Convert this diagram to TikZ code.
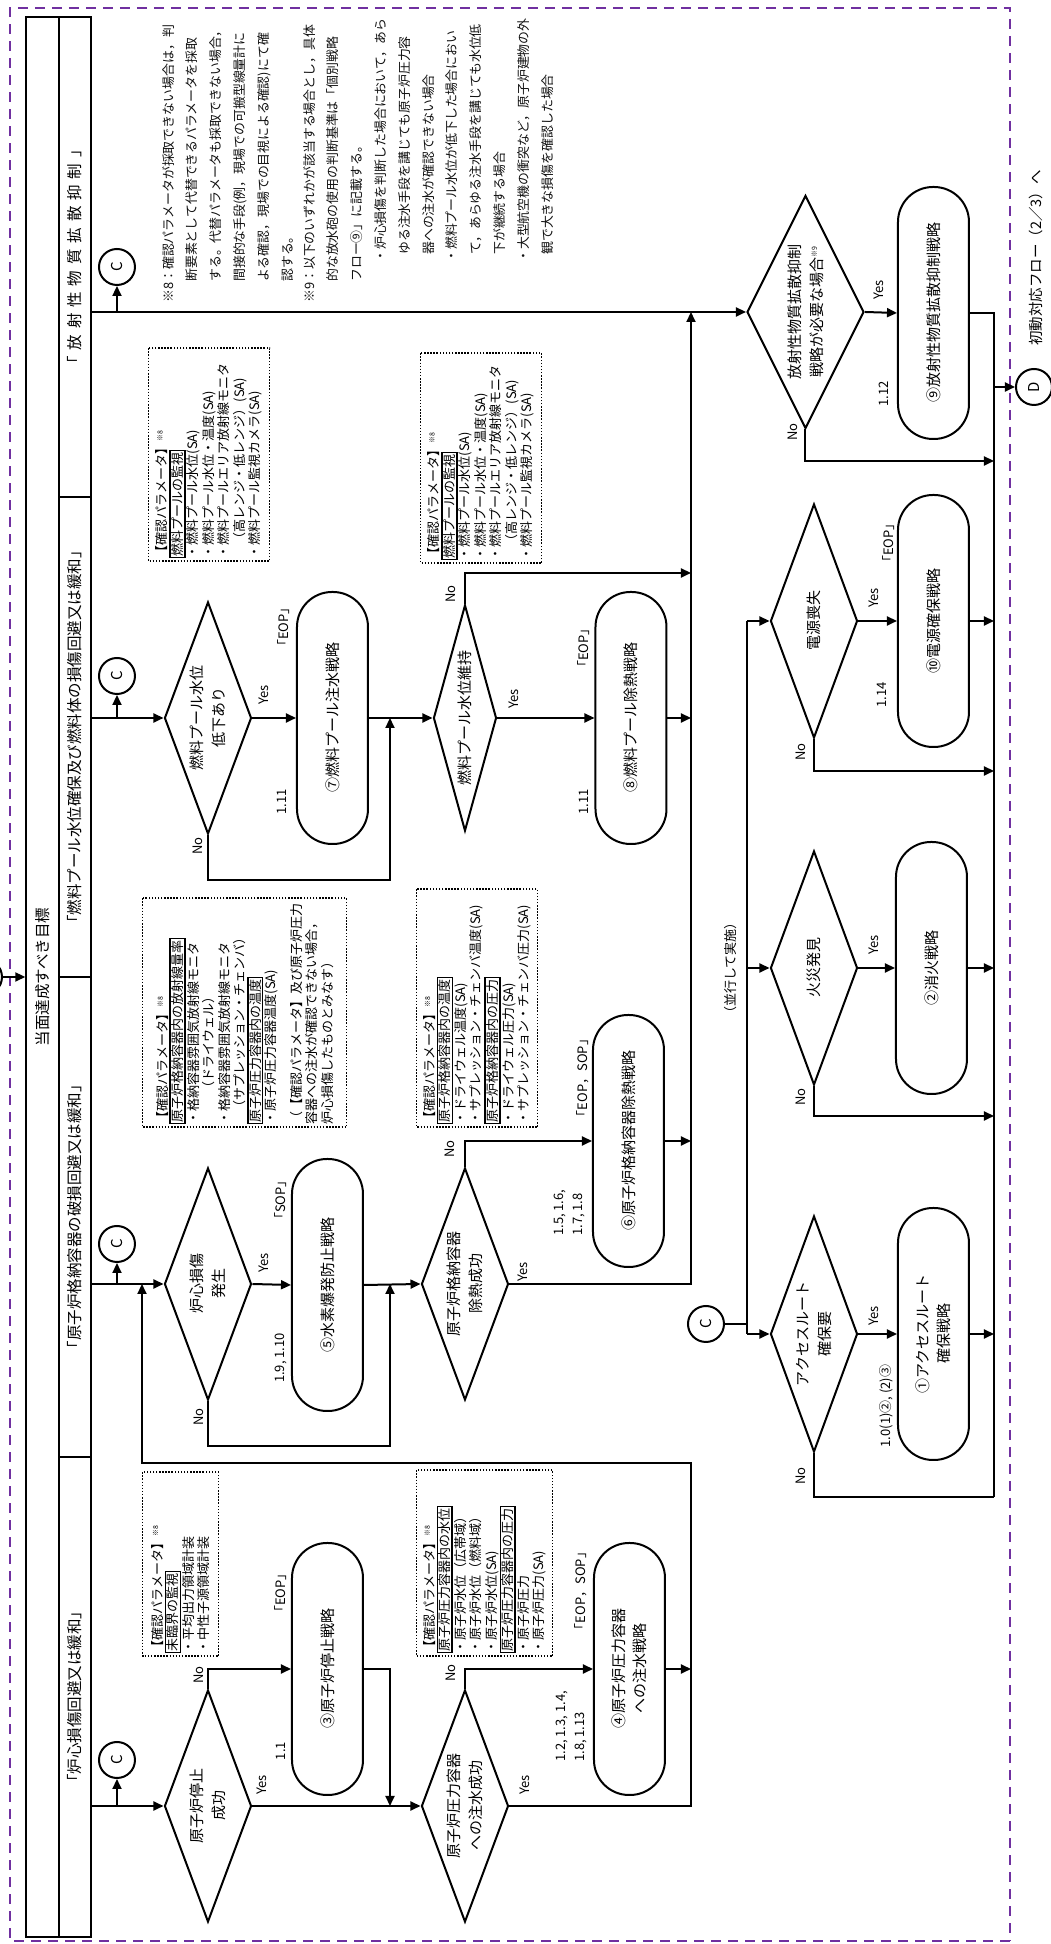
\documentclass[tikz,border=0pt]{standalone}
\usepackage{fontspec}
\setmainfont{Noto Sans CJK JP}
\usepackage{tikz}
\usetikzlibrary{arrows.meta, positioning, shapes.geometric}
\definecolor{FLpurple}{HTML}{7030A0}
\definecolor{FLink}{HTML}{111111}
\newcommand{\ptitle}[1]{{\setlength{\fboxsep}{0.6pt}\setlength{\fboxrule}{1.6pt}\fbox{#1}}}
\newcommand{\nmark}[1]{\textsuperscript{\fontsize{7}{7}\selectfont ※#1}}
\tikzset{
  aimbox/.style={rectangle, draw, line width=1.4pt, minimum width=1920pt, minimum height=33pt,
    inner sep=0pt, font=\fontsize{15.5}{18}\selectfont},
  goalbox/.style={rectangle, draw, line width=2pt, minimum width=480pt, minimum height=32pt,
    inner sep=0pt, font=\fontsize{15.5}{18}\selectfont},
  decbox/.style={diamond, draw, line width=2pt, inner sep=0pt, align=center, aspect=2.67,
    minimum width=232pt, minimum height=87pt, font=\fontsize{15}{22}\selectfont},
  stratbox/.style={rectangle, rounded corners=35pt, draw, line width=2pt, align=center,
    minimum width=252pt, minimum height=71pt, font=\fontsize{15}{21}\selectfont},
  connc/.style={circle, draw, line width=2pt, minimum size=36pt, inner sep=0pt,
    font=\fontsize{15}{18}\selectfont},
  parbox/.style={rectangle, draw, line width=1.5pt, dash pattern=on 1.5pt off 1.6pt,
    anchor=north west, align=left, inner xsep=3pt, inner ysep=6pt,
    font=\fontsize{13}{15.5}\selectfont},
  yntag/.style={inner sep=0pt, font=\fontsize{13}{19}\selectfont},
  notetxt/.style={anchor=north west, align=left, inner sep=0pt, text=FLink,
    font=\fontsize{12.9}{23.8}\selectfont},
  flowln/.style={line width=2pt},
  flowarr/.style={-{Triangle[length=10pt,width=9pt]}, line width=2pt},
}

\begin{document}
\begin{tikzpicture}[x=1pt, y=1pt]
\begin{scope}[rotate=90, transform shape]
  \useasboundingbox (0,0) rectangle (1944,1051);
  \draw[FLpurple, line width=2.6pt, dash pattern=on 10pt off 7pt] (3,41) rectangle (1936,1041);

  \node[aimbox] (aim) at (967,1008.5){当面達成すべき目標};
  \node[goalbox] (g1) at (247,976){「炉心損傷回避又は緩和」};
  \node[goalbox] (g2) at (727,976){「原子炉格納容器の破損回避又は緩和」};
  \node[goalbox] (g3) at (1207,976){「燃料プール水位確保及び燃料体の損傷回避又は緩和」};
  \node[goalbox] (g4) at (1687,976){{\addfontfeatures{LetterSpace=38}「放射性物質拡散抑制」}};
  \node[connc] (c0) at (967,1067){};
  \draw[flowarr](c0)--(aim);

  \node[decbox] (d1) at (138,843){原子炉停止\\成功};
  \node[connc] (c1) at (184,934){C};
  \node[stratbox] (s3) at (275,723.5){③原子炉停止戦略};
  \node[decbox] (d2) at (138,586){原子炉圧力容器\\への注水成功};
  \node[stratbox] (s4) at (275,421.5){④原子炉圧力容器\\への注水戦略};
  \coordinate (j1) at (138,661);
  \coordinate (lp) at (481,360);
  \coordinate (j2) at (660,909);
  \draw[flowarr](d1.north |- g1.south)--(d1.north); \draw[flowarr](d1.north |- c1)--(c1);
  \draw[flowarr](d1.east) -| (s3.north); \draw[flowarr](s3.south) |- (j1);
  \draw[flowarr](d1.south)--(d2.north); \draw[flowarr](d2.east) -| (s4.north);
  \draw[flowarr](d2.south) |- (lp) |- (j2); \draw[flowarr](s4.south)--(s4.south |- lp);

  \node[decbox] (d3) at (660,843){炉心損傷\\発生};
  \node[connc] (c2) at (700,934){C};
  \node[stratbox] (s5) at (659,723.5){⑤水素爆発防止戦略};
  \node[decbox] (d4) at (660,586){原子炉格納容器\\除熱成功};
  \node[stratbox] (s6) at (803,422.5){⑥原子炉格納容器除熱戦略};
  \coordinate (n3) at (498,661);
  \coordinate (j3) at (660,661);
  \coordinate (j4) at (1632,360);
  \draw[flowarr](d3.north |- g2.south)--(d3.north); \draw[flowarr](d3.north |- c2)--(c2);
  \draw[flowarr](d3.south)--(s5.north); \draw[flowarr](s5.south)--(d4.north);
  \draw[flowarr](d3.west) -| (n3)--(j3);
  \draw[flowarr](d4.east) -| (s6.north); \draw[flowarr](d4.south) |- (j4);
  \draw[flowarr](s6.south)--(s6.south |- j4);

  \node[decbox] (d5) at (1226,843){燃料プール水位\\低下あり};
  \node[connc] (c3) at (1268,934){C};
  \node[stratbox] (s7) at (1226,718.5){⑦燃料プール注水戦略};
  \node[decbox, minimum width=226pt, minimum height=63pt, aspect=3.6] (d6) at (1226,586){燃料プール水位維持};
  \node[stratbox] (s8) at (1226,420){⑧燃料プール除熱戦略};
  \coordinate (n5) at (1064,661);
  \coordinate (j5) at (1226,661);
  \coordinate (j6) at (1371,360);
  \draw[flowarr](d5.north |- g3.south)--(d5.north); \draw[flowarr](d5.north |- c3)--(c3);
  \draw[flowarr](d5.south)--(s7.north); \draw[flowarr](s7.south)--(d6.north);
  \draw[flowarr](d5.west) -| (n5)--(j5);
  \draw[flowarr](d6.south)--(s8.north); \draw[flowarr](d6.east) -| (j6);
  \draw[flowarr](s8.south)--(s8.south |- j4);

  \node[decbox, minimum width=233pt, minimum height=117pt, aspect=2] (d7) at (1632,245.5){放射性物質拡散抑制\\戦略が必要な場合\nmark{9}};
  \node[connc] (c4) at (1677,934){C};
  \node[stratbox] (s9) at (1631,117.5){⑨放射性物質拡散抑制戦略};
  \node[connc] (dd) at (1557,17){D};
  \node[anchor=west, inner sep=0pt, font=\fontsize{14.5}{17}\selectfont] (nx) at (1598,15){初動対応フロー（2／3）へ};
  \coordinate (n7) at (1483,57);
  \coordinate (n8) at (447,57);
  \draw[flowarr](d7.north |- g4.south)--(d7.north); \draw[flowarr](d7.north |- c4)--(c4);
  \draw[flowarr](d7.south)--(s9.north); \draw[flowln](s9.south) |- (n8);
  \draw[flowarr](d7.west) -| (n7); \draw[flowarr](dd |- n8)--(dd);

  \coordinate (bus) at (976,304);
  \node[decbox, minimum width=234pt] (d10) at (1323,237){電源喪失};
  \node[decbox, minimum width=234pt] (d9) at (976,237){火災発見};
  \node[decbox, minimum width=236pt] (d8) at (610,237){アクセスルート\\確保要};
  \node[stratbox] (s10) at (1323,117.5){⑩電源確保戦略};
  \node[stratbox] (s2) at (976,119.5){②消火戦略};
  \node[stratbox] (s1) at (610,117.5){①アクセスルート\\確保戦略};
  \node[connc] (c5) at (620,345){C};
  \node[inner sep=0pt, font=\fontsize{13}{16}\selectfont] (par) at (976,320){（並行して実施）};
  \coordinate (n10) at (1173,57);
  \coordinate (n9) at (828,57);
  \draw[flowln](d10.north |- bus)--(d8.north |- bus); \draw[flowln](c5)--(c5 |- bus);
  \draw[flowarr](d10.north |- bus)--(d10.north); \draw[flowarr](d9.north |- bus)--(d9.north);
  \draw[flowarr](d8.north |- bus)--(d8.north);
  \draw[flowarr](d10.south)--(s10.north); \draw[flowarr](s10.south)--(s10.south |- n8);
  \draw[flowarr](d9.south)--(s2.north); \draw[flowarr](s2.south)--(s2.south |- n8);
  \draw[flowarr](d8.south)--(s1.north); \draw[flowarr](s1.south)--(s1.south |- n8);
  \draw[flowarr](d10.west) -| (n10); \draw[flowarr](d9.west) -| (n9);
  \draw[flowln](d8.west) -| (n8);

  \node[yntag] (y1) at (159,789){Yes};
  \node[yntag] (no1) at (269,852){No};
  \node[yntag] (e1) at (351,770){「EOP」};
  \node[yntag] (r1) at (193,770){1.1};
  \node[yntag] (y2) at (159,526){Yes};
  \node[yntag] (no2) at (271,600){No};
  \node[yntag] (e2) at (353,470){「EOP，SOP」};
  \node[yntag, anchor=west, align=left] (r2) at (182,479.5){1.2, 1.3, 1.4,\\1.8, 1.13};
  \node[yntag] (y3) at (681,787){Yes};
  \node[yntag] (no3) at (527,852){No};
  \node[yntag] (e3) at (744,770){「SOP」};
  \node[yntag] (r3) at (586,770){1.9, 1.10};
  \node[yntag] (y4) at (672,528){Yes};
  \node[yntag] (no4) at (795,601){No};
  \node[yntag] (e4) at (866,468){「EOP，SOP」};
  \node[yntag, anchor=west, align=left] (r4) at (708,481){1.5, 1.6,\\1.7, 1.8};
  \node[yntag] (y5) at (1249,787){Yes};
  \node[yntag] (no5) at (1098,853){No};
  \node[yntag] (e5) at (1317,767){「EOP」};
  \node[yntag] (r5) at (1142,769){1.11};
  \node[yntag] (y6) at (1245,537){Yes};
  \node[yntag] (no6) at (1350,600){No};
  \node[yntag] (e6) at (1296,467){「EOP」};
  \node[yntag] (r6) at (1142,467){1.11};
  \node[yntag] (y7) at (1654,172){Yes};
  \node[yntag] (no7) at (1512,258){No};
  \node[yntag] (r7) at (1550,167){1.12};
  \node[yntag] (y10) at (1346,177){Yes};
  \node[yntag] (no10) at (1192,250){No};
  \node[yntag] (e10) at (1401,162){「EOP」};
  \node[yntag] (r10) at (1249,169){1.14};
  \node[yntag] (y9) at (999,177){Yes};
  \node[yntag] (no9) at (847,250){No};
  \node[yntag] (y8) at (628,177){Yes};
  \node[yntag] (no8) at (468,250){No};
  \node[yntag] (r8) at (538,165){1.0(1)②, (2)③};

  \node[parbox, text width=207pt, minimum height=121pt] (p1) at (1382,903){【確認パラメータ】\nmark{8}\\\ptitle{燃料プールの監視}\\・燃料プール水位(SA)\\・燃料プール水位・温度(SA)\\・燃料プールエリア放射線モニタ\\\hspace*{13pt}（高レンジ・低レンジ）(SA)\\・燃料プール監視カメラ(SA)};
  \node[parbox, text width=204pt, minimum height=121pt] (p2) at (1380,631){【確認パラメータ】\nmark{8}\\\ptitle{燃料プールの監視}\\・燃料プール水位(SA)\\・燃料プール水位・温度(SA)\\・燃料プールエリア放射線モニタ\\\hspace*{13pt}（高レンジ・低レンジ）(SA)\\・燃料プール監視カメラ(SA)};
  \node[parbox, text width=223pt, minimum height=204pt] (p3) at (816,909){【確認パラメータ】\nmark{8}\\\ptitle{原子炉格納容器内の放射線量率}\\・格納容器雰囲気放射線モニタ\\\hspace*{30pt}（ドライウェル）\\・格納容器雰囲気放射線モニタ\\\hspace*{11pt}（サプレッション・チェンバ）\\\ptitle{原子炉圧力容器内の温度}\\・原子炉圧力容器温度(SA)\\[10pt]（【確認パラメータ】及び原子炉圧力\\容器への注水が確認できない場合，\\炉心損傷したものとみなす）};
  \node[parbox, text width=232pt, minimum height=121pt] (p4) at (816,635){【確認パラメータ】\nmark{8}\\\ptitle{原子炉格納容器内の温度}\\・ドライウェル温度(SA)\\・サプレッション・チェンバ温度(SA)\\\ptitle{原子炉格納容器内の圧力}\\・ドライウェル圧力(SA)\\・サプレッション・チェンバ圧力(SA)};
  \node[parbox, text width=178pt, minimum height=76pt] (p5) at (287,909){【確認パラメータ】\nmark{8}\\\ptitle{未臨界の監視}\\・平均出力領域計装\\・中性子源領域計装};
  \node[parbox, text width=180pt, minimum height=136pt] (p6) at (287,635){【確認パラメータ】\nmark{8}\\\ptitle{原子炉圧力容器内の水位}\\・原子炉水位（広帯域）\\・原子炉水位（燃料域）\\・原子炉水位(SA)\\\ptitle{原子炉圧力容器内の圧力}\\・原子炉圧力\\・原子炉圧力(SA)};

  \node[notetxt] (nt8) at (1641,889){※8：確認パラメータが採取できない場合は，判\\
    \hspace*{21pt}断要素として代替できるパラメータを採取\\
    \hspace*{21pt}する。代替パラメータも採取できない場合，\\
    \hspace*{21pt}間接的な手段(例，現場での可搬型線量計に\\
    \hspace*{21pt}よる確認，現場での目視による確認)にて確\\
    \hspace*{21pt}認する。};
  \node[notetxt] (nt9) at (1641,748){※9：以下のいずれかが該当する場合とし，具体\\
    \hspace*{21pt}的な放水砲の使用の判断基準は「個別戦略\\
    \hspace*{21pt}フロー⑨」に記載する。\\
    \hspace*{40pt}・炉心損傷を判断した場合において，あら\\
    \hspace*{48pt}ゆる注水手段を講じても原子炉圧力容\\
    \hspace*{48pt}器への注水が確認できない場合\\
    \hspace*{40pt}・燃料プール水位が低下した場合におい\\
    \hspace*{48pt}て，あらゆる注水手段を講じても水位低\\
    \hspace*{48pt}下が継続する場合\\
    \hspace*{40pt}・大型航空機の衝突など，原子炉建物の外\\
    \hspace*{48pt}観で大きな損傷を確認した場合};
\end{scope}
\end{tikzpicture}
\end{document}
